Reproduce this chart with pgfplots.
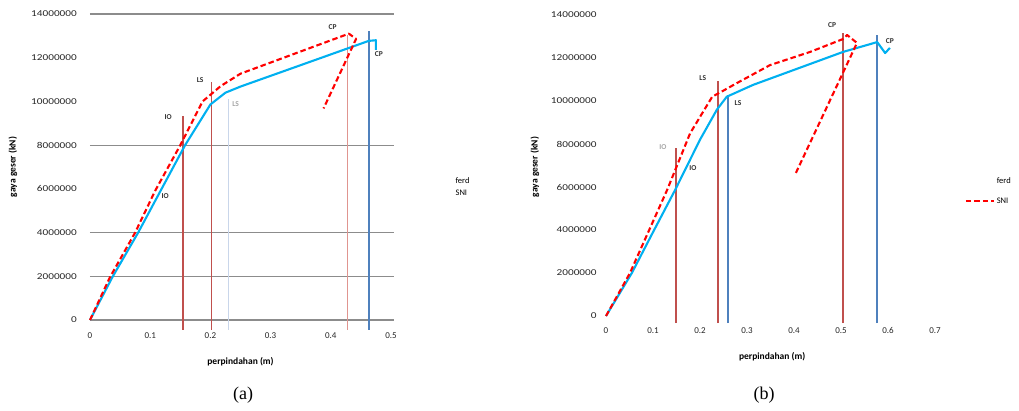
\documentclass[border=0pt]{standalone}
\usepackage{fontspec}
\setmainfont{Carlito}
\newfontfamily\capfont{Liberation Serif}
\usepackage{pgfplots}
\pgfplotsset{compat=1.18}
\definecolor{cyanline}{HTML}{00B0F0}
\definecolor{vred}{HTML}{C0504D}
\definecolor{vblue}{HTML}{4F81BD}
\definecolor{lred}{HTML}{E09590}
\definecolor{lblue}{HTML}{C9D6EA}
\definecolor{gridgray}{HTML}{8C8C8C}
\tikzset{
  blu/.style={color=cyanline, line width=2.1pt, line join=round},
  rdd/.style={color=red, line width=2.1pt, dash pattern=on 5.5pt off 3pt, line join=round},
  lab/.style={font=\bfseries\fontsize{7.5}{8}\selectfont, text=black!80},
  vr/.style={color=vred, line width=1.7pt},
  vb/.style={color=vblue, line width=1.7pt},
  gl/.style={color=gridgray, line width=1.2pt},
}
\pgfplotsset{
  common/.style={
    scale only axis, clip=false,
    axis line style={draw=none},
    tick style={draw=none},
    scaled y ticks=false, scaled x ticks=false,
    /pgf/number format/assume math mode=true,
    yticklabel style={/pgf/number format/fixed,/pgf/number format/1000 sep={},
      font=\fontsize{9}{10}\selectfont, text=black!85, xscale=1.25},
    xticklabel style={/pgf/number format/fixed,
      font=\fontsize{9}{10}\selectfont, text=black!85},
    label style={font=\bfseries\fontsize{9.5}{11}\selectfont},
    legend style={fill=none, font=\fontsize{8.5}{10}\selectfont, anchor=west, legend cell align=left},
    every axis legend/.append style={draw=none},
    legend image code/.code={\draw[##1] (0pt,0pt) -- (28pt,0pt);},
    ytick={0,2000000,4000000,6000000,8000000,10000000,12000000,14000000},
    ymin=0, ymax=14000000, xmin=0,
  },
}
\begin{document}
\begin{tikzpicture}
\path[use as bounding box] (0pt,0pt) rectangle (1019pt,410pt);
% ---------------- (a)
\begin{axis}[common, at={(90pt,90pt)}, anchor=south west, width=301pt, height=306pt,
  xmax=0.5, xtick={0,0.1,0.2,0.3,0.4,0.5},
  xticklabel style={yshift=-9pt},
  yticklabel style={xshift=-7pt},
  xlabel={perpindahan (m)}, ylabel={gaya geser (kN)},
  xlabel style={at={(rel axis cs:0.5,-0.137)}, anchor=center},
  ylabel style={at={(rel axis cs:-0.256,0.5)}, anchor=center},
  legend style={at={(rel axis cs:1.103,0.433)}, row sep=1pt},
]
% gridlines that show in the reference
\addplot[gl, forget plot] coordinates {(0,0) (0.505,0)};
\addplot[gl, forget plot] coordinates {(0,2000000) (0.505,2000000)};
\addplot[gl, forget plot] coordinates {(0,4000000) (0.505,4000000)};
\addplot[gl, forget plot] coordinates {(0,8000000) (0.505,8000000)};
\addplot[gl, forget plot] coordinates {(0,14000000) (0.505,14000000)};
% level lines
\addplot[vr, forget plot] coordinates {(0.155,-450000) (0.155,9320000)};
\addplot[vr, forget plot] coordinates {(0.2017,-450000) (0.2017,10900000)};
\addplot[color=lblue, line width=1.2pt, forget plot] coordinates {(0.23,-450000) (0.23,10100000)};
\addplot[color=lred, line width=1.3pt, forget plot] coordinates {(0.428,-450000) (0.428,13050000)};
\addplot[vb, forget plot] coordinates {(0.463,-450000) (0.463,13200000)};
\addplot[blu, forget plot] coordinates {(0,0) (0.037,1950000) (0.08,4000000) (0.117,5900000) (0.158,8000000) (0.2,9860000) (0.225,10400000) (0.25,10680000) (0.35,11660000) (0.463,12770000) (0.475,12800000) (0.475,12360000)};
\addplot[rdd, forget plot] coordinates {(0,0) (0.033,1950000) (0.075,4000000) (0.108,5900000) (0.15,8000000) (0.187,10000000) (0.217,10700000) (0.25,11270000) (0.43,13100000) (0.442,12860000) (0.388,9680000)};
\addlegendimage{color=white}\addlegendentry{ferd}
\addlegendimage{color=white}\addlegendentry{SNI}
\node[lab] at (axis cs:0.13,9270000) {IO};
\node[lab] at (axis cs:0.183,11000000) {LS};
\node[lab, text=black!35] at (axis cs:0.242,9900000) {LS};
\node[lab] at (axis cs:0.125,5680000) {IO};
\node[lab] at (axis cs:0.403,13400000) {CP};
\node[lab] at (axis cs:0.48,12180000) {CP};
\end{axis}
% ---------------- (b)
\begin{axis}[common, at={(606pt,94pt)}, anchor=south west, width=329pt, height=301pt,
  xmax=0.7, xtick={0,0.1,0.2,0.3,0.4,0.5,0.6,0.7},
  xticklabel style={yshift=-8pt},
  yticklabel style={xshift=-4pt},
  xlabel={perpindahan (m)}, ylabel={gaya geser (kN)},
  xlabel style={at={(rel axis cs:0.505,-0.136)}, anchor=center},
  ylabel style={at={(rel axis cs:-0.216,0.495)}, anchor=center},
  legend style={at={(rel axis cs:1.082,0.415)}, row sep=9pt},
]
\addplot[vr, forget plot] coordinates {(0.149,-330000) (0.149,7810000)};
\addplot[vr, forget plot] coordinates {(0.238,-330000) (0.238,10930000)};
\addplot[vb, forget plot] coordinates {(0.26,-330000) (0.26,10280000)};
\addplot[vr, forget plot] coordinates {(0.504,-330000) (0.504,13160000)};
\addplot[vb, forget plot] coordinates {(0.577,-330000) (0.577,13070000)};
\addplot[blu, forget plot] coordinates {(0,0) (0.055,2000000) (0.1,3900000) (0.147,5860000) (0.2,8200000) (0.236,9600000) (0.257,10200000) (0.313,10750000) (0.504,12280000) (0.577,12740000) (0.594,12230000) (0.604,12470000)};
\addplot[rdd, forget plot] coordinates {(0,0) (0.051,2000000) (0.089,3860000) (0.13,5860000) (0.179,8500000) (0.226,10200000) (0.243,10400000) (0.279,10840000) (0.349,11670000) (0.434,12280000) (0.504,12880000) (0.513,13070000) (0.534,12700000) (0.402,6560000)};
\addlegendimage{color=white}\addlegendentry{ferd}
\addlegendimage{rdd, line width=1.6pt}\addlegendentry{SNI}
\node[lab, text=black!35] at (axis cs:0.121,7860000) {IO};
\node[lab] at (axis cs:0.185,6880000) {IO};
\node[lab] at (axis cs:0.206,11070000) {LS};
\node[lab] at (axis cs:0.281,9910000) {LS};
\node[lab] at (axis cs:0.481,13530000) {CP};
\node[lab] at (axis cs:0.604,12790000) {CP};
\end{axis}
\node[font=\capfont\fontsize{18}{20}\selectfont] at (243pt,15pt) {(a)};
\node[font=\capfont\fontsize{18}{20}\selectfont] at (764pt,15pt) {(b)};
\end{tikzpicture}
\end{document}
